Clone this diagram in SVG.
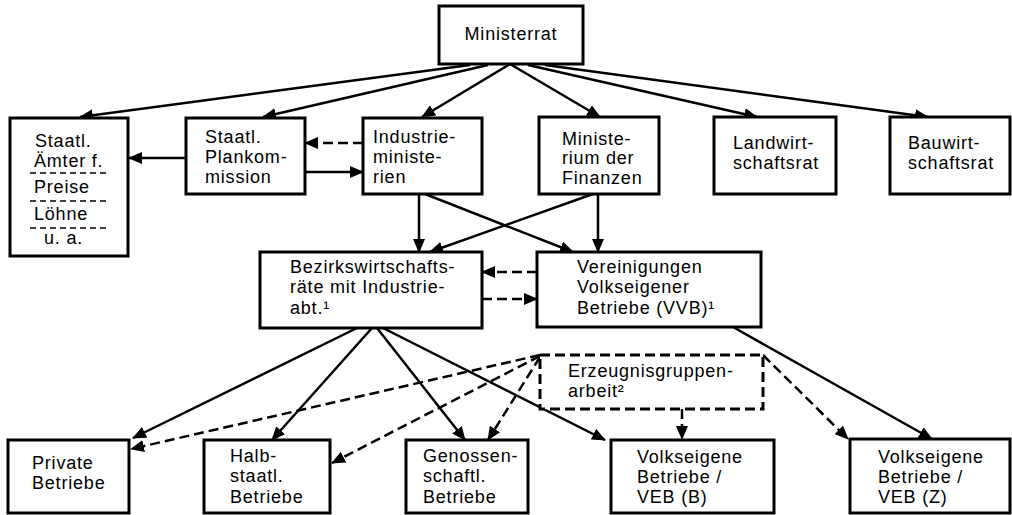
<svg xmlns="http://www.w3.org/2000/svg" width="1012" height="515" viewBox="0 0 1012 515">
<defs>
<marker id="ah" markerUnits="userSpaceOnUse" markerWidth="14" markerHeight="12" refX="13" refY="6" orient="auto">
<path d="M0,0 L14,6 L0,12 z" fill="#000"/>
</marker>
<style>
.box{fill:#fff;stroke:#000;stroke-width:3}
.dbox{fill:#fff;stroke:#000;stroke-width:3;stroke-dasharray:10 5}
.t{font-family:"Liberation Sans",Arial,sans-serif;font-size:18px;letter-spacing:0.8px;fill:#000}
.c{fill:none;stroke:#000;stroke-width:2.5;marker-end:url(#ah)}
.d{stroke-dasharray:10 5}
.sep{stroke:#000;stroke-width:1.6;stroke-dasharray:6 4}
</style>
</defs>
<rect width="1012" height="515" fill="#fff"/>
<g id="connectors">
<path class="c" d="M470,65 L80,117"/>
<path class="c" d="M488,65 L263,117"/>
<path class="c" d="M510,64 L422,117"/>
<path class="c" d="M510,64 L600,117"/>
<path class="c" d="M528,65 L757,117"/>
<path class="c" d="M545,65 L928,117"/>
<path class="c" d="M186,158 L129,158"/>
<path class="c" d="M305,172 L363,172"/>
<path class="c d" d="M363,143 L305,143"/>
<path class="c" d="M419,194 L419,252"/>
<path class="c" d="M425,194 L573,252"/>
<path class="c" d="M593,194 L430,252"/>
<path class="c" d="M598,194 L598,252"/>
<path class="c d" d="M537,272 L482,272"/>
<path class="c d" d="M482,299 L537,299"/>
<path class="c" d="M357,328 L133,438"/>
<path class="c" d="M372,328 L272,440"/>
<path class="c" d="M377,328 L465,440"/>
<path class="c" d="M383,328 L605,440"/>
<path class="c" d="M733,327 L932,439"/>
<path class="c d" d="M540,355 L131,449"/>
<path class="c d" d="M540,356 L332,463"/>
<path class="c d" d="M540,357 L488,440"/>
<path class="c d" d="M763,355 L848,439"/>
<path class="c d" d="M682,409 L682,439"/>
</g>
<g id="ministerrat">
<rect class="box" x="439" y="6" width="144" height="58"/>
<text class="t" x="511" y="40" text-anchor="middle">Ministerrat</text>
</g>
<g id="aemter">
<rect class="box" x="10" y="118" width="118" height="138"/>
<text class="t" x="35" y="147">Staatl.</text>
<text class="t" x="34" y="167">Ämter f.</text>
<line class="sep" x1="30" y1="173" x2="110" y2="173"/>
<text class="t" x="34" y="193">Preise</text>
<line class="sep" x1="30" y1="201" x2="110" y2="201"/>
<text class="t" x="34" y="220">Löhne</text>
<line class="sep" x1="30" y1="228" x2="110" y2="228"/>
<text class="t" x="44" y="244">u. a.</text>
</g>
<g id="plankommission">
<rect class="box" x="186" y="118" width="119" height="76"/>
<text class="t" x="205" y="143">Staatl.</text>
<text class="t" x="205" y="163">Plankom-</text>
<text class="t" x="205" y="183">mission</text>
</g>
<g id="industrieministerien">
<rect class="box" x="363" y="118" width="119" height="76"/>
<text class="t" x="373" y="143">Industrie-</text>
<text class="t" x="373" y="163">ministe-</text>
<text class="t" x="373" y="183">rien</text>
</g>
<g id="finanzen">
<rect class="box" x="539" y="117" width="120" height="77"/>
<text class="t" x="562" y="145">Ministe-</text>
<text class="t" x="562" y="164">rium der</text>
<text class="t" x="562" y="184">Finanzen</text>
</g>
<g id="landwirtschaftsrat">
<rect class="box" x="714" y="117" width="122" height="77"/>
<text class="t" x="733" y="149">Landwirt-</text>
<text class="t" x="733" y="169">schaftsrat</text>
</g>
<g id="bauwirtschaftsrat">
<rect class="box" x="890" y="117" width="120" height="77"/>
<text class="t" x="908" y="149">Bauwirt-</text>
<text class="t" x="908" y="169">schaftsrat</text>
</g>
<g id="bezirkswirtschaftsraete">
<rect class="box" x="260" y="252" width="222" height="76"/>
<text class="t" x="290" y="273">Bezirkswirtschafts-</text>
<text class="t" x="290" y="293">räte mit Industrie-</text>
<text class="t" x="290" y="314">abt.¹</text>
</g>
<g id="vvb">
<rect class="box" x="537" y="252" width="224" height="75"/>
<text class="t" x="577" y="273">Vereinigungen</text>
<text class="t" x="577" y="293">Volkseigener</text>
<text class="t" x="577" y="314">Betriebe (VVB)¹</text>
</g>
<g id="erzeugnisgruppenarbeit">
<rect class="dbox" x="540" y="355" width="223" height="54"/>
<text class="t" x="568" y="377">Erzeugnisgruppen-</text>
<text class="t" x="568" y="397">arbeit²</text>
</g>
<g id="private">
<rect class="box" x="8" y="440" width="121" height="73"/>
<text class="t" x="32" y="469">Private</text>
<text class="t" x="32" y="489">Betriebe</text>
</g>
<g id="halbstaatl">
<rect class="box" x="204" y="440" width="126" height="73"/>
<text class="t" x="230" y="462">Halb-</text>
<text class="t" x="230" y="482">staatl.</text>
<text class="t" x="230" y="503">Betriebe</text>
</g>
<g id="genossenschaftl">
<rect class="box" x="406" y="440" width="122" height="73"/>
<text class="t" x="423" y="462">Genossen-</text>
<text class="t" x="423" y="482">schaftl.</text>
<text class="t" x="423" y="503">Betriebe</text>
</g>
<g id="veb-b">
<rect class="box" x="611" y="440" width="163" height="73"/>
<text class="t" x="637" y="463">Volkseigene</text>
<text class="t" x="637" y="483">Betriebe /</text>
<text class="t" x="637" y="503">VEB (B)</text>
</g>
<g id="veb-z">
<rect class="box" x="850" y="439" width="160" height="74"/>
<text class="t" x="878" y="463">Volkseigene</text>
<text class="t" x="878" y="483">Betriebe /</text>
<text class="t" x="878" y="503">VEB (Z)</text>
</g>
</svg>
